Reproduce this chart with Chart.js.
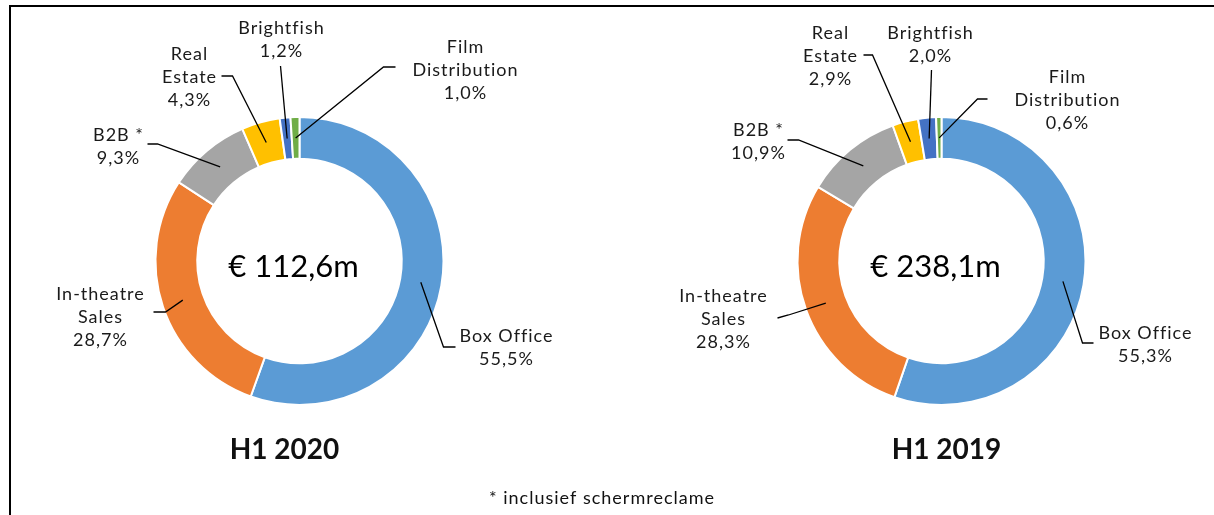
<!DOCTYPE html>
<html>
<head>
<meta charset="utf-8">
<script src="https://cdn.jsdelivr.net/npm/chart.js@4.4.1/dist/chart.umd.min.js"></script>
<style>
  html, body { margin: 0; padding: 0; background: #fff; }
  #wrap { position: relative; width: 1214px; height: 515px; overflow: hidden; background: #fff; }
  #frame { position: absolute; left: 9px; top: 5px; width: 1300px; height: 600px; border-left: 2px solid #000; border-top: 2px solid #000; box-sizing: border-box; }
  canvas { position: absolute; top: 0; }
  #c1 { left: 0; }
  #c2 { left: 607px; }
</style>
</head>
<body>
<div id="wrap">
  <div id="frame"></div>
  <canvas id="c1" width="607" height="515"></canvas>
  <canvas id="c2" width="607" height="515"></canvas>
</div>
<script>
// ---- data ----
const categories = ['Box Office', 'In-theatre Sales', 'B2B *', 'Real Estate', 'Brightfish', 'Film Distribution'];
const labelLines = [['Box Office'], ['In-theatre', 'Sales'], ['B2B *'], ['Real', 'Estate'], ['Brightfish'], ['Film', 'Distribution']];
const values2020 = [55.5, 28.7, 9.3, 4.3, 1.2, 1.0];
const values2019 = [55.3, 28.3, 10.9, 2.9, 2.0, 0.6];
const total2020 = '€ 112,6m';
const total2019 = '€ 238,1m';
const title2020 = 'H1 2020';
const title2019 = 'H1 2019';
const footnote = '* inclusief schermreclame';

// ---- style ----
const colors = ['#5B9BD5', '#ED7D31', '#A5A5A5', '#FFC000', '#4472C4', '#70AD47'];
const FONT = 'Lato, "Open Sans", sans-serif';

// label placement (relative to doughnut center): text center of first line, leader points before anchor
const layout2020 = [
  { t: [207, 75], pts: [[156, 86], [144, 86]] },
  { t: [-199, 33], pts: [[-146, 51], [-134, 51]] },
  { t: [-181, -126], pts: [[-152, -117], [-142, -117]] },
  { t: [-110, -207], pts: [[-78, -185], [-67, -185]] },
  { t: [-18, -233], pts: [[-19, -195]] },
  { t: [166, -214], pts: [[96, -194], [84, -194]] }
];
const layout2019 = [
  { t: [204, 72], pts: [[152, 82], [141, 82]] },
  { t: [-218, 35], pts: [[-164, 57], [-153, 54]] },
  { t: [-183, -131], pts: [[-154, -121], [-143, -121]] },
  { t: [-111, -228], pts: [[-78, -206], [-69, -206]] },
  { t: [-11, -228], pts: [[-10, -191]] },
  { t: [126, -184], pts: [[46, -162], [36, -162]] }
];

function pct(v) { return v.toFixed(1).replace('.', ',') + '%'; }

const labelPlugin = {
  id: 'customLabels',
  afterDraw(chart) {
    const o = chart.options.plugins.customLabels;
    const ctx = chart.ctx;
    const meta = chart.getDatasetMeta(0);
    const vals = chart.data.datasets[0].data;
    const arc0 = meta.data[0];
    const cx = arc0.x, cy = arc0.y;
    ctx.save();
    // leader lines
    ctx.strokeStyle = '#000';
    ctx.lineWidth = 1.3;
    meta.data.forEach((arc, i) => {
      const L = o.layout[i];
      const a = arc.getCenterPoint();
      ctx.beginPath();
      L.pts.forEach((p, k) => {
        if (k === 0) ctx.moveTo(cx + p[0], cy + p[1]); else ctx.lineTo(cx + p[0], cy + p[1]);
      });
      ctx.lineTo(a.x, a.y);
      ctx.stroke();
    });
    // label text
    ctx.fillStyle = '#1a1a1a';
    ctx.textAlign = 'center';
    ctx.textBaseline = 'middle';
    ctx.font = '18px ' + FONT;
    if ('letterSpacing' in ctx) ctx.letterSpacing = '1px';
    meta.data.forEach((arc, i) => {
      const L = o.layout[i];
      const lines = labelLines[i].concat([pct(vals[i])]);
      lines.forEach((s, k) => {
        ctx.fillText(s, cx + L.t[0], cy + L.t[1] + k * 23);
      });
    });
    if ('letterSpacing' in ctx) ctx.letterSpacing = '0px';
    // center total
    ctx.fillStyle = '#000';
    ctx.font = '31px ' + FONT;
    ctx.fillText(o.total, cx + o.totalDx, cy + 6);
    // title
    ctx.font = 'bold 28px ' + FONT;
    ctx.fillStyle = '#111';
    ctx.fillText(o.title, cx + o.titleDx, 450);
    ctx.restore();
  }
};

function makeChart(id, values, layout, total, title, pad, totalDx, titleDx) {
  return new Chart(document.getElementById(id), {
    type: 'doughnut',
    data: {
      labels: categories,
      datasets: [{ data: values, backgroundColor: colors, borderColor: '#fff', borderWidth: 2 }]
    },
    options: {
      responsive: false,
      animation: false,
      cutout: '71%',
      layout: { padding: pad },
      plugins: {
        legend: { display: false },
        tooltip: { enabled: false },
        customLabels: { layout: layout, total: total, title: title, totalDx: totalDx, titleDx: titleDx }
      }
    },
    plugins: [labelPlugin]
  });
}

// chart 1 center (299,261) r 144 ; chart 2 center (941,261) -> local 334
makeChart('c1', values2020, layout2020, total2020, title2020, { left: 154, right: 162, top: 116, bottom: 109 }, -6, -15);
makeChart('c2', values2019, layout2019, total2019, title2019, { left: 189, right: 127, top: 116, bottom: 109 }, -6, 5);

// footnote on an overlay canvas spanning the page
(function () {
  const ov = document.createElement('canvas');
  ov.width = 1214; ov.height = 515;
  ov.style.left = '0px'; ov.style.pointerEvents = 'none';
  document.getElementById('wrap').appendChild(ov);
  const ctx = ov.getContext('2d');
  ctx.font = '18px ' + FONT;
  if ('letterSpacing' in ctx) ctx.letterSpacing = '1px';
  ctx.fillStyle = '#111';
  ctx.textAlign = 'center';
  ctx.textBaseline = 'middle';
  ctx.fillText(footnote, 602, 498);
})();
</script>
</body>
</html>
